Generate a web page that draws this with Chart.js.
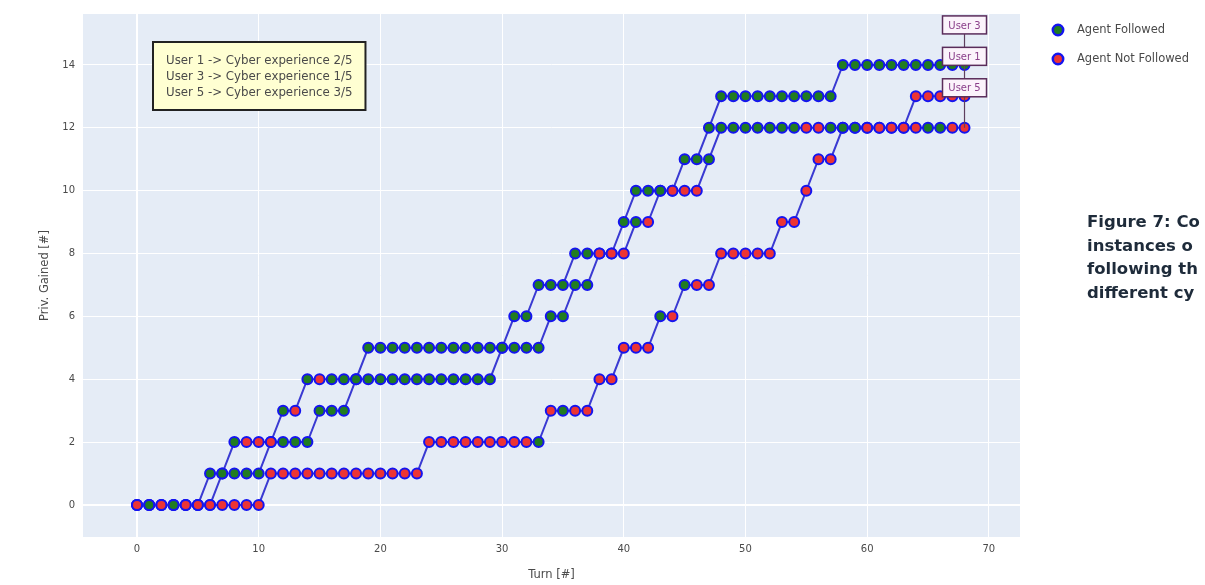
<!DOCTYPE html>
<html lang="en">
<head>
<meta charset="UTF-8">
<title>Priv. Gained per Turn</title>
<script src="https://cdn.jsdelivr.net/npm/chart.js"></script>
<style>
  body { margin: 0; background: #fff; }
  .wrap { position: relative; width: 1205px; height: 585px; overflow: hidden; }
  .caption { position: absolute; left: 1087px; top: 210px; font-family: "DejaVu Sans", sans-serif; font-weight: 700;
             font-size: 16.5px; line-height: 23.5px; color: #1e2b3a; white-space: nowrap; }
</style>
</head>
<body>
<div class="wrap">
  <canvas id="chart" width="1205" height="585"></canvas>
  <div class="caption">Figure 7: Co<br>instances o<br>following th<br>different cy</div>
</div>

<script>
  // Turn index, shared by all three users
  const turns = [0,1,2,3,4,5,6,7,8,9,10,11,12,13,14,15,16,17,18,19,20,21,22,23,24,25,26,27,28,29,
                 30,31,32,33,34,35,36,37,38,39,40,41,42,43,44,45,46,47,48,49,50,51,52,53,54,55,56,57,58,59,
                 60,61,62,63,64,65,66,67,68];

  // Privileges gained
  const user3Priv = [0,0,0,0,0,0, 1,1, 2,2,2,2, 3,3, 4,4,4,4,4, 5,5,5,5,5,5,5,5,5,5,5,5,
                     6,6, 7,7,7, 8,8,8,8, 9, 10,10,10,10, 11,11, 12,
                     13,13,13,13,13,13,13,13,13,13, 14,14,14,14,14,14,14,14,14,14,14];
  const user1Priv = [0,0,0,0,0,0,0, 1,1,1,1, 2,2,2,2, 3,3,3, 4,4,4,4,4,4,4,4,4,4,4,4,
                     5,5,5,5, 6,6, 7,7, 8,8,8, 9,9, 10,10,10,10, 11,
                     12,12,12,12,12,12,12,12,12,12,12,12,12,12,12,12, 13,13,13,13,13];
  const user5Priv = [0,0,0,0,0,0,0,0,0,0,0, 1,1,1,1,1,1,1,1,1,1,1,1,1, 2,2,2,2,2,2,2,2,2,2,
                     3,3,3,3, 4,4, 5,5,5, 6,6, 7,7,7, 8,8,8,8,8, 9,9, 10, 11,11,
                     12,12,12,12,12,12,12,12,12,12,12];

  // 1 = agent followed, 0 = agent not followed
  const user3Followed = [0,1,0,1,0,0, 1,1, 1,0,0,0, 1,0, 1,0,1,1,1, 1,1,1,1,1,1,1,1,1,1,1,1,
                         1,1, 1,1,1, 1,1,0,0, 1, 1,1,1,0, 1,1, 1,
                         1,1,1,1,1,1,1,1,1,1, 1,1,1,1,1,1,1,1,1,1,1];
  const user1Followed = [0,1,0,1,0,0,0, 1,1,1,1, 0,1,1,1, 1,1,1, 1,1,1,1,1,1,1,1,1,1,1,1,
                         1,1,1,1, 1,1, 1,1, 0,0,0, 1,0, 1,0,0,0, 1,
                         1,1,1,1,1,1,1,0,0,1,1,1,0,0,0,0, 0,0,0,0,0];
  const user5Followed = [0,1,0,1,0,0,0,0,0,0,0, 0,0,0,0,0,0,0,0,0,0,0,0,0, 0,0,0,0,0,0,0,0,0,1,
                         0,1,0,0, 0,0, 0,0,0, 1,0, 1,0,0, 0,0,0,0,0, 0,0, 0, 0,0,
                         1,1,0,0,0,0,0,1,1,0,0];

  const userNames = ['User 3', 'User 1', 'User 5'];
  const experienceNotes = ['User 1 -> Cyber experience 2/5',
                           'User 3 -> Cyber experience 1/5',
                           'User 5 -> Cyber experience 3/5'];
  const legendLabels = ['Agent Followed', 'Agent Not Followed'];
  const xTicks = [0, 10, 20, 30, 40, 50, 60, 70];
  const yTicks = [0, 2, 4, 6, 8, 10, 12, 14];

  const FOLLOWED = '#217c21';
  const NOT_FOLLOWED = '#ec3434';
  const EDGE = '#1414f0';
  const LINE = '#3a3ad2';
  const TXT = '#4a4a4a';
  const FONT = 'DejaVu Sans';

  function makeSet(name, vals, flags) {
    return {
      label: name,
      data: vals.map((v, i) => ({ x: turns[i], y: v })),
      borderColor: LINE,
      borderWidth: 2,
      pointRadius: 5,
      pointBorderWidth: 2,
      pointBorderColor: EDGE,
      pointBackgroundColor: flags.map(f => f ? FOLLOWED : NOT_FOLLOWED),
      tension: 0,
      fill: false
    };
  }

  // plotly-ish blue-grey plot area
  const plotBg = {
    id: 'plotBg',
    beforeDraw(chart) {
      const { ctx, chartArea: a } = chart;
      ctx.save();
      ctx.fillStyle = '#e5ecf6';
      ctx.fillRect(a.left, a.top, a.right - a.left, a.bottom - a.top);
      ctx.restore();
    }
  };

  // experience note box + "User n" tags at the last point of each line
  const notes = {
    id: 'notes',
    afterDraw(chart) {
      const { ctx, chartArea: a, scales: { x, y } } = chart;
      ctx.save();

      ctx.font = '11.8px "' + FONT + '"';
      const w = Math.max(...experienceNotes.map(t => ctx.measureText(t).width)) + 26;
      const bx = a.left + 70, by = a.top + 28, h = 68;
      ctx.fillStyle = '#ffffd2';
      ctx.fillRect(bx, by, w, h);
      ctx.lineWidth = 2;
      ctx.strokeStyle = '#222';
      ctx.strokeRect(bx, by, w, h);
      ctx.fillStyle = TXT;
      ctx.textBaseline = 'middle';
      experienceNotes.forEach((t, i) => ctx.fillText(t, bx + 13, by + 19 + i * 16));

      const lastVals = [user3Priv, user1Priv, user5Priv].map(s => s[s.length - 1]);
      ctx.font = '10px "' + FONT + '"';
      ctx.textAlign = 'center';
      userNames.forEach((name, i) => {
        const px = x.getPixelForValue(turns[turns.length - 1]);
        const py = y.getPixelForValue(lastVals[i]);
        const cy = py - 40, bw = 44, bh = 18;
        ctx.strokeStyle = '#5e3f5e';
        ctx.lineWidth = 1.2;
        ctx.beginPath();
        ctx.moveTo(px, py);
        ctx.lineTo(px, cy + bh / 2);
        ctx.stroke();
        ctx.fillStyle = '#fbf3fb';
        ctx.fillRect(px - bw / 2, cy - bh / 2, bw, bh);
        ctx.strokeStyle = '#5a2c5a';
        ctx.lineWidth = 1.5;
        ctx.strokeRect(px - bw / 2, cy - bh / 2, bw, bh);
        ctx.fillStyle = '#8a3f8a';
        ctx.fillText(name, px, cy + 1);
      });
      ctx.restore();
    }
  };

  // marker legend on the right
  const markLegend = {
    id: 'markLegend',
    afterDraw(chart) {
      const { ctx, chartArea: a } = chart;
      const fills = [FOLLOWED, NOT_FOLLOWED];
      ctx.save();
      ctx.font = '11.5px "' + FONT + '"';
      ctx.textBaseline = 'middle';
      legendLabels.forEach((lbl, i) => {
        const cx = a.right + 38, cy = a.top + 16 + i * 29;
        ctx.beginPath();
        ctx.arc(cx, cy, 5.2, 0, Math.PI * 2);
        ctx.fillStyle = fills[i];
        ctx.fill();
        ctx.lineWidth = 2.5;
        ctx.strokeStyle = EDGE;
        ctx.stroke();
        ctx.fillStyle = TXT;
        ctx.fillText(lbl, cx + 19, cy);
      });
      ctx.restore();
    }
  };

  const tickFont = { family: FONT, size: 10 };
  const titleFont = { family: FONT, size: 11.5 };
  const gridWidth = c => (c.tick && c.tick.value === 0 ? 2 : 1);

  new Chart(document.getElementById('chart'), {
    type: 'line',
    data: {
      datasets: [
        makeSet('User 1', user1Priv, user1Followed),
        makeSet('User 3', user3Priv, user3Followed),
        makeSet('User 5', user5Priv, user5Followed)
      ]
    },
    options: {
      responsive: false,
      animation: false,
      layout: { padding: { left: 0, right: 185, top: 14, bottom: 0 } },
      plugins: { legend: { display: false }, tooltip: { enabled: false } },
      scales: {
        x: {
          type: 'linear', min: -4.44, max: 72.56,
          afterBuildTicks: s => { s.ticks = xTicks.map(v => ({ value: v })); },
          afterFit: s => { s.height = 48; },
          grid: { color: '#ffffff', lineWidth: gridWidth, drawTicks: false },
          border: { display: false },
          ticks: { padding: 6, color: TXT, font: tickFont },
          title: { display: true, text: 'Turn [#]', color: TXT, font: titleFont, padding: { top: 0, bottom: 3 } }
        },
        y: {
          type: 'linear', min: -1.02, max: 15.62,
          afterBuildTicks: s => { s.ticks = yTicks.map(v => ({ value: v })); },
          afterFit: s => { s.width = 83; },
          grid: { color: '#ffffff', lineWidth: gridWidth, drawTicks: false },
          border: { display: false },
          ticks: { padding: 8, color: TXT, font: tickFont },
          title: { display: true, text: 'Priv. Gained [#]', color: TXT, font: titleFont, padding: { top: 38, bottom: 0 } }
        }
      }
    },
    plugins: [plotBg, notes, markLegend]
  });
</script>
</body>
</html>
